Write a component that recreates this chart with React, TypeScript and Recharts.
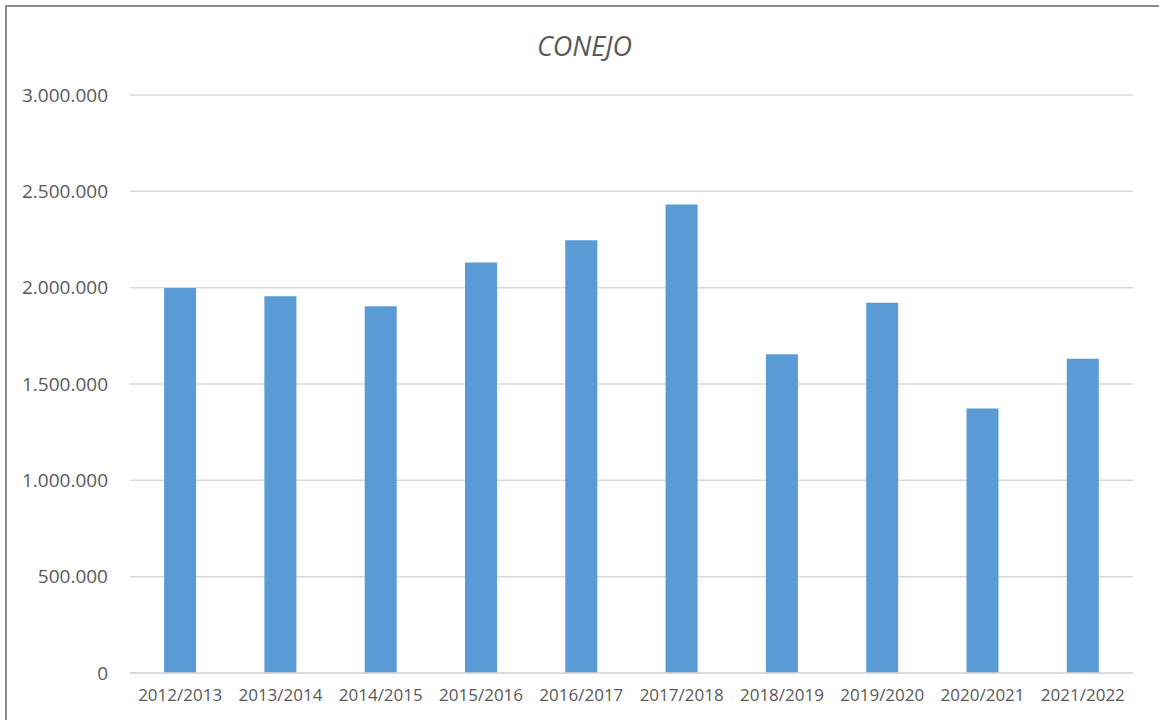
import React from "react";
import { BarChart, Bar, XAxis, YAxis, CartesianGrid } from "recharts";

const seasons = [
  "2012/2013", "2013/2014", "2014/2015", "2015/2016", "2016/2017",
  "2017/2018", "2018/2019", "2019/2020", "2020/2021", "2021/2022",
];
const conejo = [
  1998000, 1955000, 1904000, 2130000, 2246000,
  2432000, 1655000, 1922000, 1373000, 1631000,
];
const yTicks = [0, 500000, 1000000, 1500000, 2000000, 2500000, 3000000];

const data = seasons.map((s, i) => ({ season: s, value: conejo[i] }));

const FONT = "'Open Sans', sans-serif";
const GREY = "#595959";

function fmt(v: number) {
  return v.toString().replace(/\B(?=(\d{3})+(?!\d))/g, ".");
}

export default function App() {
  return (
    <div style={{ position: "absolute", left: 0, top: 0, width: 1159, height: 720, background: "#fff", overflow: "hidden" }}>
      <div
        style={{
          position: "absolute", left: 5, top: 5, width: 1170, height: 730,
          border: "2px solid #8c8c8c", boxSizing: "border-box",
        }}
      />
      <div
        style={{
          position: "absolute", left: 0, top: 29, width: 1169, textAlign: "center",
          fontFamily: FONT, fontStyle: "italic", fontSize: 27, lineHeight: "34px", color: GREY,
        }}
      >
        CONEJO
      </div>
      <div style={{ position: "absolute", left: 0, top: 0 }}>
        <BarChart
          width={1159}
          height={720}
          data={data}
          margin={{ top: 95, right: 26, left: 0, bottom: 17 }}
          barCategoryGap="34%"
        >
          <CartesianGrid vertical={false} stroke="#d9d9d9" strokeWidth={1.5} />
          <XAxis
            dataKey="season"
            height={30}
            tickLine={false}
            axisLine={{ stroke: "#d9d9d9", strokeWidth: 1.5 }}
            tick={{ fill: GREY, fontSize: 17, fontFamily: FONT }}
            tickMargin={10}
            interval={0}
          />
          <YAxis
            width={130}
            domain={[0, 3000000]}
            ticks={yTicks}
            tickFormatter={fmt}
            tickLine={false}
            axisLine={false}
            tick={{ fill: GREY, fontSize: 19, fontFamily: FONT }}
            tickMargin={16}
          />
          <Bar dataKey="value" fill="#5b9bd5" isAnimationActive={false} />
        </BarChart>
      </div>
    </div>
  );
}
